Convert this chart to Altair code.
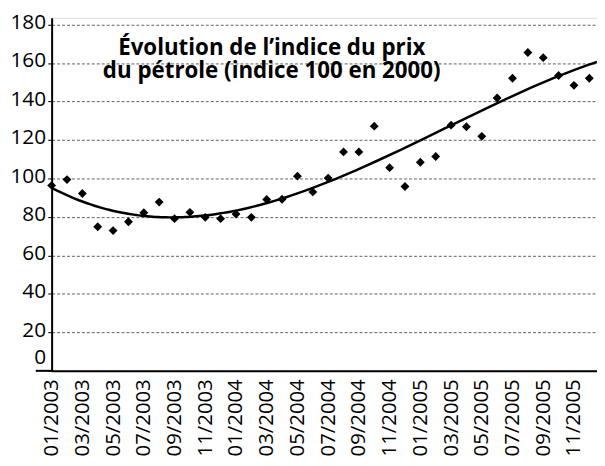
import altair as alt
import pandas as pd

# Monthly oil price index (base 100 in 2000), 01/2003 .. 12/2005
month_index = list(range(36))
values = [96.4, 99.4, 92.2, 74.9, 72.9, 77.5, 82.2, 87.7, 79.1, 82.4, 79.8, 79.1,
          81.5, 79.8, 89.1, 89.2, 101.2, 93.0, 100.2, 113.8, 113.8, 127.2, 105.6, 95.8,
          108.4, 111.4, 127.7, 126.9, 121.9, 141.8, 152.1, 165.5, 162.8, 153.5, 148.4, 152.1]
tick_labels = ["01/2003", "03/2003", "05/2003", "07/2003", "09/2003", "11/2003",
               "01/2004", "03/2004", "05/2004", "07/2004", "09/2004", "11/2004",
               "01/2005", "03/2005", "05/2005", "07/2005", "09/2005", "11/2005"]
tick_positions = list(range(0, 36, 2))
y_ticks = [0, 20, 40, 60, 80, 100, 120, 140, 160, 180]
title_lines = ["Évolution de l’indice du prix", "du pétrole (indice 100 en 2000)"]

df = pd.DataFrame({"i": month_index, "v": values})

FONT = "Open Sans"
W, H = 550, 356
label_expr = "[" + ",".join(f"'{t}'" for t in tick_labels) + "][datum.value / 2]"

x_enc = alt.X("i:Q", scale=alt.Scale(domain=[0, 35.5], nice=False, zero=False),
              axis=alt.Axis(values=tick_positions, labelExpr=label_expr, labelAngle=270,
                            labelAlign="right", labelBaseline="middle", labelPadding=8,
                            labelOverlap=False, labelFlush=False,
                            ticks=False, grid=False, title=None, domainColor="black",
                            domainWidth=2, labelFontSize=20.5, labelFont=FONT,
                            labelColor="black"))
y_enc = alt.Y("v:Q", scale=alt.Scale(domain=[0, 183.5], nice=False),
              axis=alt.Axis(values=y_ticks, title=None, grid=True, gridColor="#444",
                            gridDash=[3, 2], gridWidth=1, gridOpacity=0.85,
                            labelOverlap=False, labelFlush=False,
                            domainColor="black", domainWidth=2, tickColor="black",
                            tickSize=4, tickWidth=1, labelPadding=2, labelFontSize=21,
                            labelFont=FONT, labelColor="black",
                            labelOffset={"condition": {"test": "datum.value == 0", "value": -13},
                                         "value": -2}))

base = alt.Chart(df)

points = base.mark_point(shape="diamond", filled=True, color="black", size=80,
                         opacity=1).encode(x=x_enc, y=y_enc)

trend = base.transform_regression("i", "v", method="poly", order=3,
                                  extent=[0, 35.5]).mark_line(
    color="black", strokeWidth=2.5).encode(x=x_enc, y=y_enc)

# bottom axis line continues a little to the left of the vertical axis
axis_stub = base.transform_filter("datum.i == 0").mark_rule(
    color="black", strokeWidth=2).encode(x=alt.value(-16), x2=alt.value(0), y=alt.value(H))

title = base.transform_filter("datum.i == 0").mark_text(
    text=title_lines, font=FONT, fontSize=22.5, fontWeight="bold", color="black",
    align="center", baseline="alphabetic", lineHeight=24
).encode(x=alt.value(222), y=alt.value(37))

chart = alt.layer(trend, points, axis_stub, title).properties(
    width=W, height=H,
    autosize=alt.AutoSizeParams(type="none"),
    padding={"left": 44, "top": 8, "right": 0, "bottom": 86},
).configure_view(stroke=None).configure(background="white").configure_axis(
    labelOverlap=False
)

chart.save("out.html", embed_options={"renderer": "svg", "actions": False})
